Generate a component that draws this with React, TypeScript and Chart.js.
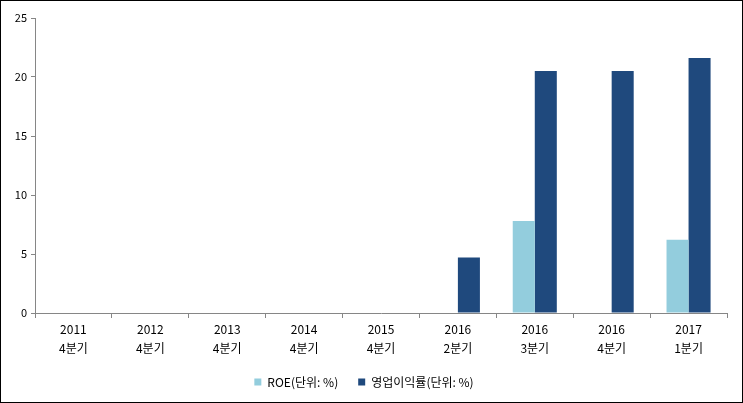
import React, { useEffect, useRef } from "react";
import { Chart, registerables } from "chart.js";

Chart.register(...registerables);

const years = ["2011", "2012", "2013", "2014", "2015", "2016", "2016", "2016", "2017"];
const quarters = ["4분기", "4분기", "4분기", "4분기", "4분기", "2분기", "3분기", "4분기", "1분기"];
const roe = [null, null, null, null, null, null, 7.8, null, 6.2];
const opMargin = [null, null, null, null, null, 4.7, 20.5, 20.5, 21.6];
const yTicks = [0, 5, 10, 15, 20, 25];

const FONT = '"Noto Sans CJK KR", "DejaVu Sans", sans-serif';
const AXIS = "#868686";

export default function App() {
  const ref = useRef<HTMLCanvasElement | null>(null);
  useEffect(() => {
    document.body.style.margin = "0";
    const labels = years.map((y, i) => [y, quarters[i]]);
    const chart = new Chart(ref.current!, {
      type: "bar",
      data: {
        labels,
        datasets: [
          { label: "ROE(단위: %)", data: roe, backgroundColor: "#93CDDD", borderWidth: 0 },
          { label: "영업이익률(단위: %)", data: opMargin, backgroundColor: "#1F497D", borderWidth: 0 },
        ],
      },
      options: {
        animation: false,
        responsive: false,
        maintainAspectRatio: false,
        layout: { padding: { top: 17, right: 15, bottom: 4, left: 0 } },
        datasets: { bar: { categoryPercentage: 0.573, barPercentage: 1 } },
        plugins: {
          tooltip: { enabled: false },
          legend: {
            position: "bottom",
            labels: {
              boxWidth: 7,
              boxHeight: 7,
              padding: 20,
              color: "#000",
              font: { family: FONT, size: 12 },
            },
          },
        },
        scales: {
          x: {
            grid: { drawOnChartArea: false, color: AXIS, tickLength: 5, offset: true },
            border: { color: AXIS },
            ticks: {
              color: "#000",
              font: { family: FONT, size: 12, lineHeight: 1.6 },
              padding: 2,
              maxRotation: 0,
              autoSkip: false,
            },
            afterFit: (s: any) => { s.height = 43; },
          },
          y: {
            min: 0,
            max: 25,
            grid: { drawOnChartArea: false, color: AXIS, tickLength: 4 },
            border: { color: AXIS },
            afterBuildTicks: (s: any) => { s.ticks = yTicks.map((v) => ({ value: v })); },
            ticks: { color: "#000", font: { family: FONT, size: 11 }, padding: 4 },
            afterFit: (s: any) => { s.width = 34; },
          },
        },
      },
    });
    return () => chart.destroy();
  }, []);
  return (
    <div style={{ width: 743, height: 403, border: "1px solid #000", boxSizing: "border-box", background: "#fff" }}>
      <canvas ref={ref} width={741} height={401} style={{ display: "block" }} />
    </div>
  );
}
